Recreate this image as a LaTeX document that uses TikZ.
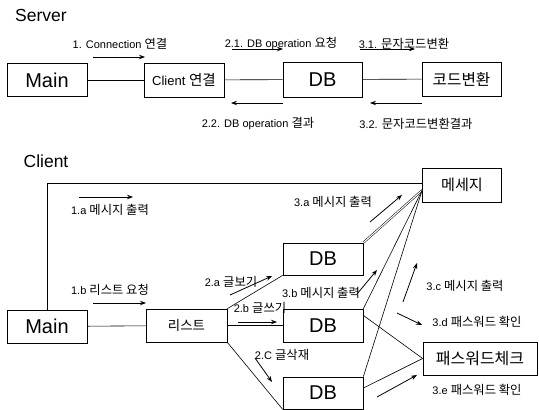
\documentclass[tikz,border=0pt]{standalone}
\usepackage{fontspec}
\setmainfont{Liberation Sans}
\newfontfamily\kr{Noto Sans CJK KR}[Scale=1.12]
\usetikzlibrary{arrows.meta,calc}
\tikzset{
  box/.style={draw, line width=0.7pt, minimum width=80pt, minimum height=33pt, inner sep=0pt},
  big/.style={font=\fontsize{20}{22}\selectfont},
  lbl/.style={font=\fontsize{11}{13}\selectfont, inner sep=0pt},
  ttl/.style={font=\fontsize{17.5}{20}\selectfont, inner sep=0pt},
  conn/.style={line width=0.6pt},
  ann/.style={line width=0.8pt, -{Stealth[length=6pt,width=4.5pt]}},
}
\begin{document}
\begin{tikzpicture}[x=1pt,y=-1pt]
\useasboundingbox (0,0) rectangle (539,410);
% ---------- Server ----------
\node[ttl] (tserver) at (41,15) {Server};
\node[box,big] (smain) at (47,80) {Main};
\node[box,minimum height=34pt,font=\fontsize{13}{15}\selectfont] (client) at (184,80) {Client {\kr 연결}};
\node[box,big,minimum width=79pt,minimum height=35pt] (sdb) at (322.5,79.5) {DB};
\node[box,minimum width=79pt,minimum height=34pt,font=\fontsize{14}{16}\selectfont] (code) at (461.5,79) {\kr 코드변환};
\draw[conn] (smain) -- (client);
\draw[conn] (client) -- (sdb);
\draw[conn] (sdb) -- (code);

\node[lbl] (l1) at (120,44) {1. Connection {\kr 연결}};
\node[lbl] (l21) at (281,44) {2.1. DB operation {\kr 요청}};
\node[lbl] (l31) at (404,44) {3.1. {\kr 문자코드변환}};
\node[lbl] (l22) at (258,124) {2.2. DB operation {\kr 결과}};
\node[lbl] (l32) at (416,124) {3.2. {\kr 문자코드변환결과}};
\coordinate (a1s) at (93,57);   \coordinate (a1e) at (145,57);
\coordinate (a21s) at (232,49); \coordinate (a21e) at (283,49);
\coordinate (a31s) at (360,49); \coordinate (a31e) at (415,49);
\coordinate (a22s) at (283,103); \coordinate (a22e) at (231,103);
\coordinate (a32s) at (422,103); \coordinate (a32e) at (370,103);
\draw[ann] (a1s) -- (a1e);
\draw[ann] (a21s) -- (a21e);
\draw[ann] (a31s) -- (a31e);
\draw[ann] (a22s) -- (a22e);
\draw[ann] (a32s) -- (a32e);

% ---------- Client ----------
\node[ttl] (tclient) at (46,161) {Client};
\node[box,big] (cmain) at (47,326.5) {Main};
\node[box,minimum width=81pt,font=\fontsize{12}{14}\selectfont] (list) at (186.5,325.5) {\kr 리스트};
\node[box,big,minimum height=32pt] (db1) at (323,259) {DB};
\node[box,big] (db2) at (323,325.5) {DB};
\node[box,big,minimum height=32pt] (db3) at (323,393) {DB};
\node[box,minimum width=79pt,minimum height=34pt,font=\fontsize{13.5}{15}\selectfont] (msg) at (462,185) {\kr 메세지};
\node[box,minimum width=114pt,font=\fontsize{14.3}{16}\selectfont] (pw) at (480,358.5) {\kr 패스워드체크};

\coordinate (mtop) at ($(msg.north west)!0.45!(msg.south west)$);
\coordinate (mconv) at ($(msg.north west)!0.65!(msg.south west)$);
\draw[conn] (cmain.north) |- (mtop);
\draw[conn] (cmain) -- (list);
\draw[conn] (list.north east) -- (db1.south west);
\draw[conn] (list) -- (db2);
\draw[conn] (list.south east) -- (db3.south west);
\draw[conn,double,double distance=1.1pt,line width=0.5pt] (db1.north east) -- (mconv);
\draw[conn] (db2.north east) -- (mconv);
\draw[conn] (db3.north east) -- (mconv);
\draw[conn] ($(db2.north east)!0.2!(db2.south east)$) -- (pw.west);
\draw[conn] ($(db3.north east)!0.35!(db3.south east)$) -- (pw.west);

\node[lbl] (l1a) at (110,210) {1.a {\kr 메시지 출력}};
\node[lbl] (l1b) at (110,290) {1.b {\kr 리스트 요청}};
\node[lbl] (l2a) at (231,282) {2.a {\kr 글보기}};
\node[lbl] (l2b) at (260,308) {2.b {\kr 글쓰기}};
\node[lbl] (l2c) at (282,355) {2.C {\kr 글삭재}};
\node[lbl] (l3a) at (333,202) {3.a {\kr 메시지 출력}};
\node[lbl] (l3b) at (321,293) {3.b {\kr 메시지 출력}};
\node[lbl] (l3c) at (465,286) {3.c {\kr 메시지 출력}};
\node[lbl] (l3d) at (477,322) {3.d {\kr 패스워드 확인}};
\node[lbl] (l3e) at (477,390) {3.e {\kr 패스워드 확인}};

\coordinate (b1as) at (79,197);  \coordinate (b1ae) at (133,197);
\coordinate (b1bs) at (93,303);  \coordinate (b1be) at (146,303);
\coordinate (b2as) at (230,295); \coordinate (b2ae) at (272,276);
\coordinate (b2bs) at (238,322); \coordinate (b2be) at (277,322);
\coordinate (b2cs) at (255,358); \coordinate (b2ce) at (272,382);
\coordinate (b3as) at (370,222); \coordinate (b3ae) at (402,195);
\coordinate (b3bs) at (357,294); \coordinate (b3be) at (377,270);
\coordinate (b3cs) at (403,302); \coordinate (b3ce) at (417,263);
\coordinate (b3ds) at (397,313); \coordinate (b3de) at (422,325);
\coordinate (b3es) at (377,397); \coordinate (b3ee) at (417,375);
\foreach \a in {1a,1b,2a,2b,2c,3a,3b,3c,3d,3e}
  \draw[ann] (b\a s) -- (b\a e);
\end{tikzpicture}
\end{document}
